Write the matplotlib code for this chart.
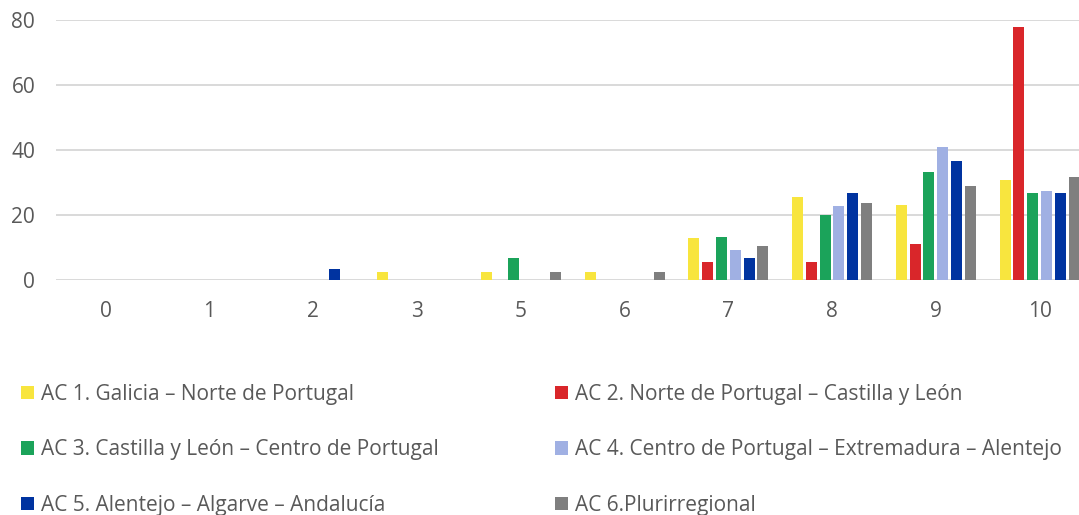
import numpy as np
import matplotlib.pyplot as plt

plt.rcParams['font.family'] = ['Open Sans', 'DejaVu Sans']

# score categories (4 is not present in the survey)
categories = ['0', '1', '2', '3', '5', '6', '7', '8', '9', '10']

series_names = [
    'AC 1. Galicia – Norte de Portugal',
    'AC 2. Norte de Portugal – Castilla y León',
    'AC 3. Castilla y León – Centro de Portugal',
    'AC 4. Centro de Portugal – Extremadura – Alentejo',
    'AC 5. Alentejo – Algarve – Andalucía',
    'AC 6.Plurirregional',
]

ac1 = [0, 0, 0, 2.6, 2.6, 2.6, 12.8, 25.6, 23.1, 30.8]
ac2 = [0, 0, 0, 0, 0, 0, 5.6, 5.6, 11.1, 77.8]
ac3 = [0, 0, 0, 0, 6.7, 0, 13.3, 20.0, 33.3, 26.7]
ac4 = [0, 0, 0, 0, 0, 0, 9.1, 22.7, 40.9, 27.3]
ac5 = [0, 0, 3.3, 0, 0, 0, 6.7, 26.7, 36.7, 26.7]
ac6 = [0, 0, 0, 0, 2.6, 2.6, 10.5, 23.7, 28.9, 31.6]

colors = ['#F8E53E', '#D9262A', '#1BA35A', '#A0B0E3', '#0033A0', '#7F7F7F']

fig = plt.figure(figsize=(10.79, 5.15), dpi=100)
ax = fig.add_axes([56 / 1079, 1 - 280 / 515, 1 - 56 / 1079, 260 / 515])

x = np.arange(len(categories))
step = 0.133
width = 0.106
handles = []
for i, (vals, c) in enumerate(zip([ac1, ac2, ac3, ac4, ac5, ac6], colors)):
    b = ax.bar(x + (i - 2.5) * step, vals, width, color=c, zorder=3)
    handles.append(b)

ax.set_ylim(0, 80)
ax.set_xlim(-0.48, 9.38)
ax.set_yticks([0, 20, 40, 60, 80])
ax.set_xticks(x)
ax.set_xticklabels(categories)
ax.grid(axis='y', color='#D9D9D9', linewidth=1.4, zorder=0)
for s in ax.spines.values():
    s.set_visible(False)
ax.tick_params(axis='both', length=0, labelsize=15, labelcolor='#595959')
ax.tick_params(axis='y', pad=15)
ax.tick_params(axis='x', pad=15)

order = [0, 2, 4, 1, 3, 5]
leg = fig.legend([handles[k] for k in order], [series_names[k] for k in order],
                 ncol=2, loc='upper left', bbox_to_anchor=(2 / 1079, 1 - 365 / 515),
                 frameon=False, fontsize=15, handlelength=0.62, handleheight=0.62,
                 handletextpad=0.33, labelspacing=1.66, columnspacing=5.62,
                 labelcolor='#595959')

fig.savefig('out.png', dpi=100)
